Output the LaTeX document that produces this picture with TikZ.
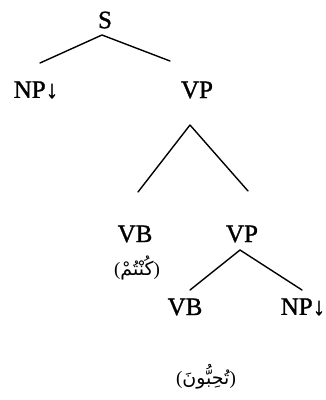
\documentclass[tikz,border=0pt]{standalone}
\usepackage{fontspec}
\setmainfont{Liberation Serif}
\newfontfamily\heavy[FakeBold=1.2]{Liberation Serif}
\newfontfamily\arabicfont[Script=Arabic]{DejaVu Sans}
\TeXXeTstate=1
\newcommand{\artext}[1]{{(}{\arabicfont\beginR #1\endR}{)}}
\begin{document}
\begin{tikzpicture}[x=1pt,y=-1pt,
  lbl/.style={inner sep=0pt,font=\heavy\fontsize{25}{28}\selectfont},
  ar/.style={inner sep=0pt,font=\fontsize{19}{22}\selectfont},
  edge/.style={line width=1.4pt,line cap=round,line join=round}]
\useasboundingbox (0,0) rectangle (326,400);
\node[lbl] (S) at (105,20) {S};
\node[lbl] (NP1) at (36,90) {NP↓};
\node[lbl] (VP1) at (197,90) {VP};
\node[lbl] (VB1) at (135,234) {VB};
\node[lbl] (VP2) at (242,234) {VP};
\node[ar] (A1) at (137,268) {\artext{كُنْتُمْ}};
\node[lbl] (VB2) at (185,307) {VB};
\node[lbl] (NP2) at (303,307) {NP↓};
\node[ar] (A2) at (206,377) {\artext{تُحِبُّونَ}};
\coordinate (s-a) at (102,35);
\coordinate (s-l) at (40,63);
\coordinate (s-r) at (170,61);
\coordinate (v-a) at (190,125);
\coordinate (v-l) at (138,192);
\coordinate (v-r) at (248,191);
\coordinate (w-a) at (240,250);
\coordinate (w-l) at (190,290);
\coordinate (w-r) at (302,290);
\draw[edge] (s-l) -- (s-a) -- (s-r);
\draw[edge] (v-l) -- (v-a) -- (v-r);
\draw[edge] (w-l) -- (w-a) -- (w-r);
\end{tikzpicture}
\end{document}
